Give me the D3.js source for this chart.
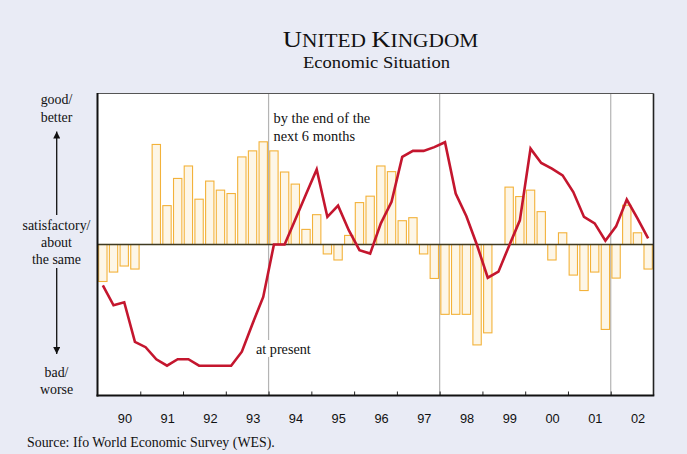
<!DOCTYPE html>
<html>
<head>
<meta charset="utf-8">
<script src="https://cdn.jsdelivr.net/npm/d3@7"></script>
<style>
  html, body { margin: 0; padding: 0; background: #e9ebf5; }
  svg { display: block; }
</style>
</head>
<body>
<script>
// ---------------- DATA ----------------
const yearLabels = ["90","91","92","93","94","95","96","97","98","99","00","01","02"];
const firstYear = 1990;
const markerYears = [1994, 1998, 2002]; // grey vertical separators

// Expectations "by the end of the next 6 months" (bars), quarterly, 1-9 scale, 5 = satisfactory
const expectations = [
  4.02, 4.27, 4.43, 4.35,   // 1990
  null, 7.65, 6.03, 6.75,   // 1991
  7.08, 6.20, 6.68, 6.44,   // 1992
  6.35, 7.32, 7.48, 7.72,   // 1993
  7.48, 6.92, 6.60, 5.40,   // 1994
  5.79, 4.75, 4.59, 5.24,   // 1995
  6.11, 6.28, 7.08, 6.93,   // 1996
  5.63, 5.71, 4.75, 4.10,   // 1997
  3.15, 3.15, 3.15, 2.34,   // 1998
  2.66, null, 6.52, 6.27,   // 1999
  6.44, 5.87, 4.59, 5.31,   // 2000
  4.19, 3.78, 4.27, 2.75,   // 2001
  4.11, 6.04, 5.31, 4.35    // 2002
];

// Present situation (red line), quarterly
const present = [
  3.92, 3.39, 3.47, 2.42,   // 1990
  2.28, 1.96, 1.79, 1.96,   // 1991
  1.96, 1.79, 1.79, 1.79,   // 1992
  1.79, 2.16, 2.90, 3.61,   // 1993
  5.00, 5.00, 5.66, 6.33,   // 1994
  6.99, 5.73, 6.03, 5.38,   // 1995
  4.85, 4.76, 5.56, 6.13,   // 1996
  7.32, 7.48, 7.48, 7.58,   // 1997
  7.71, 6.35, 5.75, 4.98,   // 1998
  4.12, 4.28, 4.97, 5.64,   // 1999
  7.54, 7.16, 7.01, 6.83,   // 2000
  6.39, 5.73, 5.56, 5.10,   // 2001
  5.48, 6.19, 5.69, 5.16    // 2002
];

const yMin = 1, yMax = 9, yBase = 5;

// ---------------- DRAW ----------------
const W = 687, H = 454;
const plot = { left: 97.5, right: 653.5, top: 93.5, bottom: 395.5 };
const serif = "'Liberation Serif', 'Times New Roman', serif";
const sans = "'Liberation Sans', Arial, sans-serif";

const svg = d3.select("body").append("svg").attr("width", W).attr("height", H);
svg.append("rect").attr("width", W).attr("height", H).attr("fill", "#e9ebf5");

const lastYear = firstYear + yearLabels.length;
const x = d3.scaleLinear().domain([firstYear, lastYear]).range([plot.left, plot.right]);
const y = d3.scaleLinear().domain([yMin, yMax]).range([plot.bottom, plot.top]);

const qTime = i => firstYear + Math.floor(i / 4) + ((i % 4) + 0.5) / 4;

// plot background
svg.append("rect")
  .attr("x", plot.left).attr("y", plot.top)
  .attr("width", plot.right - plot.left).attr("height", plot.bottom - plot.top)
  .attr("fill", "#ffffff");

// grey separators
svg.append("g").selectAll("line").data(markerYears).join("line")
  .attr("x1", d => x(d)).attr("x2", d => x(d))
  .attr("y1", plot.top).attr("y2", plot.bottom)
  .attr("stroke", "#b4b4b4").attr("stroke-width", 1.2);

// bars
const slot = x(firstYear + 0.25) - x(firstYear);
const bw = slot * 0.78;
const barData = expectations.map((v, i) => ({ v, t: qTime(i) })).filter(d => d.v !== null);
svg.append("g").selectAll("rect").data(barData).join("rect")
  .attr("x", d => x(d.t) - bw / 2)
  .attr("width", bw)
  .attr("y", d => Math.min(y(d.v), y(yBase)))
  .attr("height", d => Math.abs(y(d.v) - y(yBase)))
  .attr("fill", "#fdf6e7")
  .attr("stroke", "#f3b23a")
  .attr("stroke-width", 1.1);

// zero line
svg.append("line")
  .attr("x1", plot.left).attr("x2", plot.right)
  .attr("y1", y(yBase)).attr("y2", y(yBase))
  .attr("stroke", "#3f3a22").attr("stroke-width", 1.4);

// red line (present)
const lineGen = d3.line().x((d, i) => x(qTime(i))).y(d => y(d));
svg.append("path").datum(present)
  .attr("d", lineGen)
  .attr("fill", "none")
  .attr("stroke", "#c4162e")
  .attr("stroke-width", 2.6)
  .attr("stroke-linejoin", "miter");

// annotations
svg.append("rect").attr("x", 254).attr("y", 340).attr("width", 60).attr("height", 17).attr("fill", "#fff");
svg.append("text").attr("x", 256).attr("y", 353.5)
  .attr("font-family", serif).attr("font-size", 14.2).attr("fill", "#111")
  .text("at present");
const ann = svg.append("text").attr("font-family", serif).attr("font-size", 14.4).attr("fill", "#111");
ann.append("tspan").attr("x", 273.5).attr("y", 123).text("by the end of the");
ann.append("tspan").attr("x", 273.5).attr("y", 140.5).text("next 6 months");

// bottom axis ticks (inward, at year boundaries)
const tickYears = d3.range(firstYear + 1, lastYear);
const axisTicks = d3.axisBottom(x).tickValues(tickYears).tickSize(-4).tickFormat("");
const gT = svg.append("g").attr("transform", `translate(0,${plot.bottom})`).call(axisTicks);
gT.select(".domain").remove();
gT.selectAll(".tick line").attr("stroke", "#222").attr("stroke-width", 1);

// year labels
const axisLabels = d3.axisBottom(x)
  .tickValues(d3.range(firstYear, lastYear).map(v => v + 0.5))
  .tickSize(0)
  .tickFormat((d, i) => yearLabels[i]);
const gL = svg.append("g").attr("transform", `translate(5.5,${plot.bottom})`).call(axisLabels);
gL.select(".domain").remove();
gL.selectAll("text").attr("font-family", sans).attr("font-size", 12.8).attr("fill", "#111").attr("dy", 0).attr("y", 27);

// frame
svg.append("line").attr("x1", plot.left).attr("x2", plot.right).attr("y1", plot.top).attr("y2", plot.top)
  .attr("stroke", "#555").attr("stroke-width", 1.2);
svg.append("line").attr("x1", plot.right).attr("x2", plot.right).attr("y1", plot.top).attr("y2", plot.bottom)
  .attr("stroke", "#222").attr("stroke-width", 1.6);
svg.append("line").attr("x1", plot.left).attr("x2", plot.left).attr("y1", plot.top - 0.5).attr("y2", plot.bottom + 1)
  .attr("stroke", "#111").attr("stroke-width", 2);
svg.append("line").attr("x1", plot.left - 1).attr("x2", plot.right + 0.8).attr("y1", plot.bottom).attr("y2", plot.bottom)
  .attr("stroke", "#111").attr("stroke-width", 2);

// title
const title = svg.append("text").attr("x", 282.7).attr("y", 46.7)
  .attr("font-family", serif).attr("fill", "#111")
  .attr("textLength", 195.6).attr("lengthAdjust", "spacingAndGlyphs");
title.append("tspan").attr("font-size", 23).text("U");
title.append("tspan").attr("font-size", 18.4).text("NITED ");
title.append("tspan").attr("font-size", 23).text("K");
title.append("tspan").attr("font-size", 18.4).text("INGDOM");
svg.append("text").attr("x", 303).attr("y", 68.3)
  .attr("font-family", serif).attr("font-size", 17.2).attr("fill", "#111")
  .attr("textLength", 147).attr("lengthAdjust", "spacingAndGlyphs")
  .text("Economic Situation");

// left legend
const leftLabels = [
  { t: "good/", y: 104 }, { t: "better", y: 121.5 },
  { t: "satisfactory/", y: 229.5 }, { t: "about", y: 246.5 }, { t: "the same", y: 264 },
  { t: "bad/", y: 376.5 }, { t: "worse", y: 394 }
];
svg.append("g").selectAll("text").data(leftLabels).join("text")
  .attr("x", 56.5).attr("y", d => d.y).attr("text-anchor", "middle")
  .attr("font-family", serif).attr("font-size", 13.9).attr("fill", "#111")
  .text(d => d.t);

const defs = svg.append("defs");
defs.append("marker").attr("id", "ah").attr("viewBox", "0 0 10 10").attr("refX", 10).attr("refY", 5)
  .attr("markerWidth", 7).attr("markerHeight", 7).attr("markerUnits", "userSpaceOnUse").attr("orient", "auto")
  .append("path").attr("d", "M0,0 L10,5 L0,10 Z").attr("fill", "#111");
svg.append("line").attr("x1", 56.7).attr("x2", 56.7).attr("y1", 215).attr("y2", 131.5)
  .attr("stroke", "#111").attr("stroke-width", 1.3).attr("marker-end", "url(#ah)");
svg.append("line").attr("x1", 56.7).attr("x2", 56.7).attr("y1", 268).attr("y2", 354)
  .attr("stroke", "#111").attr("stroke-width", 1.3).attr("marker-end", "url(#ah)");

// source
svg.append("text").attr("x", 27).attr("y", 446.5)
  .attr("font-family", serif).attr("font-size", 13.9).attr("fill", "#111")
  .text("Source: Ifo World Economic Survey (WES).");
</script>
</body>
</html>
